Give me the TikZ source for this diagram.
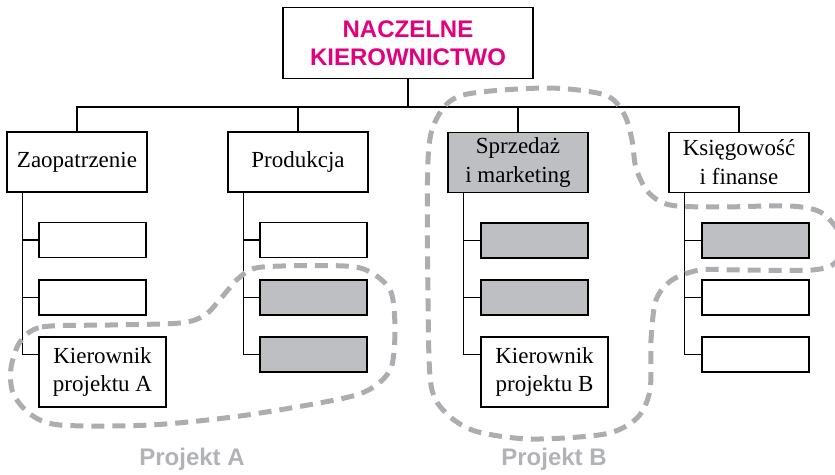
\documentclass[tikz,border=0pt]{standalone}
\usepackage{fontspec}
\setmainfont{Liberation Serif}
\newfontfamily\headfont{Liberation Sans}
\usepackage{tikz}
\usetikzlibrary{positioning}
\definecolor{orgmagenta}{RGB}{228,0,124}
\definecolor{orgfill}{RGB}{190,191,195}
\definecolor{orgdash}{RGB}{172,173,176}
\definecolor{orglabel}{RGB}{178,179,182}

\begin{document}
\begin{tikzpicture}[
    x=1pt, y=-1pt,
    unit/.style={draw, line width=1.2pt, align=center, inner sep=0pt, minimum width=140pt, minimum height=60pt, font=\fontsize{23}{29}\selectfont},
    sub/.style={draw, line width=1.2pt, inner sep=0pt, minimum width=107pt, minimum height=35pt},
    lead/.style={draw, line width=1.2pt, align=center, inner sep=0pt, minimum width=127pt, minimum height=70pt, font=\fontsize{23}{28}\selectfont},
    shaded/.style={fill=orgfill},
    link/.style={line width=1.1pt},
    group/.style={orgdash, line width=5pt, dash pattern=on 13pt off 8pt},
    grouplabel/.style={text=orglabel, font=\headfont\bfseries\fontsize{24}{28}\selectfont}
  ]
    \useasboundingbox (0,0) rectangle (835,474);

    % top box
    \node[draw, line width=1.2pt, align=center, inner sep=0pt, minimum width=250pt, minimum height=71pt,
          text=orgmagenta, font=\headfont\bfseries\fontsize{24}{28}\selectfont] (top) at (408,43) {NACZELNE\\KIEROWNICTWO};

    % departments
    \node[unit] (zaop) at (77,162) {Zaopatrzenie};
    \node[unit] (prod) at (298,162) {Produkcja};
    \node[unit, shaded] (sprz) at (518,162.5) {Sprzeda\.z\\i marketing};
    \node[unit] (ksieg) at (739,162.5) {Ksi\k{e}gowo\'s\'c\\i finanse};

    % subunits
    \node[sub] (zaop1) at (92.5,240) {};
    \node[sub] (zaop2) at (92.5,297.5) {};
    \node[lead] (kierA) at (102.5,372) {Kierownik\\projektu A};

    \node[sub] (prod1) at (313.5,240) {};
    \node[sub, shaded] (prod2) at (313.5,297.5) {};
    \node[sub, shaded] (prod3) at (313.5,354.5) {};

    \node[sub, shaded] (sprz1) at (534.5,240.5) {};
    \node[sub, shaded] (sprz2) at (534.5,297.5) {};
    \node[lead] (kierB) at (544.5,372) {Kierownik\\projektu B};

    \node[sub, shaded] (ksieg1) at (755.5,240.5) {};
    \node[sub] (ksieg2) at (755.5,297.5) {};
    \node[sub] (ksieg3) at (755.5,354.5) {};

    % connectors
    \coordinate (bus) at (408,107);
    \draw[link] (top) -- (bus);
    \draw[link] (zaop.north) |- (bus) -| (ksieg.north);
    \draw[link] (prod.north) -- (prod.north |- bus);
    \draw[link] (sprz.north) -- (sprz.north |- bus);

    \coordinate (zaopT) at ([xshift=16pt]zaop.south west);
    \coordinate (prodT) at ([xshift=16pt]prod.south west);
    \coordinate (sprzT) at ([xshift=16pt]sprz.south west);
    \coordinate (ksiegT) at ([xshift=16pt]ksieg.south west);
    \draw[link] (zaopT) |- (zaop1.west);
    \draw[link] (zaopT) |- (zaop2.west);
    \draw[link] (zaopT) |- (kierA.west |- prod3.west);
    \draw[link] (prodT) |- (prod1.west);
    \draw[link] (prodT) |- (prod2.west);
    \draw[link] (prodT) |- (prod3.west);
    \draw[link] (sprzT) |- (sprz1.west);
    \draw[link] (sprzT) |- (sprz2.west);
    \draw[link] (sprzT) |- (kierB.west |- prod3.west);
    \draw[link] (ksiegT) |- (ksieg1.west);
    \draw[link] (ksiegT) |- (ksieg2.west);
    \draw[link] (ksiegT) |- (ksieg3.west);

    % project groups
    \draw[group] plot[smooth cycle, tension=0.5] coordinates {
      (20,342) (42,327) (110,325) (180,323) (205,315) (222,297) (240,277) (262,267)
      (345,266) (372,273) (391,292) (395,330) (391,368) (372,388) (340,399)
      (240,416) (150,425) (60,425) (30,414) (13,393) (11,368)};
    \draw[group] plot[smooth cycle, tension=0.5] coordinates {
      (463,95) (547,88) (605,95) (624,114) (632,140) (636,168) (648,192) (670,205)
      (720,207) (790,206) (822,213) (842,238) (836,262) (812,270) (740,270)
      (700,270) (672,280) (656,300) (651,340) (650,390) (637,418) (605,434)
      (530,439) (475,431) (446,413) (431,385) (428,300) (428,160) (437,118)};

    \node[grouplabel] (labA) at (192,459) {Projekt A};
    \node[grouplabel] (labB) at (554,459) {Projekt B};
  \end{tikzpicture}
\end{document}
